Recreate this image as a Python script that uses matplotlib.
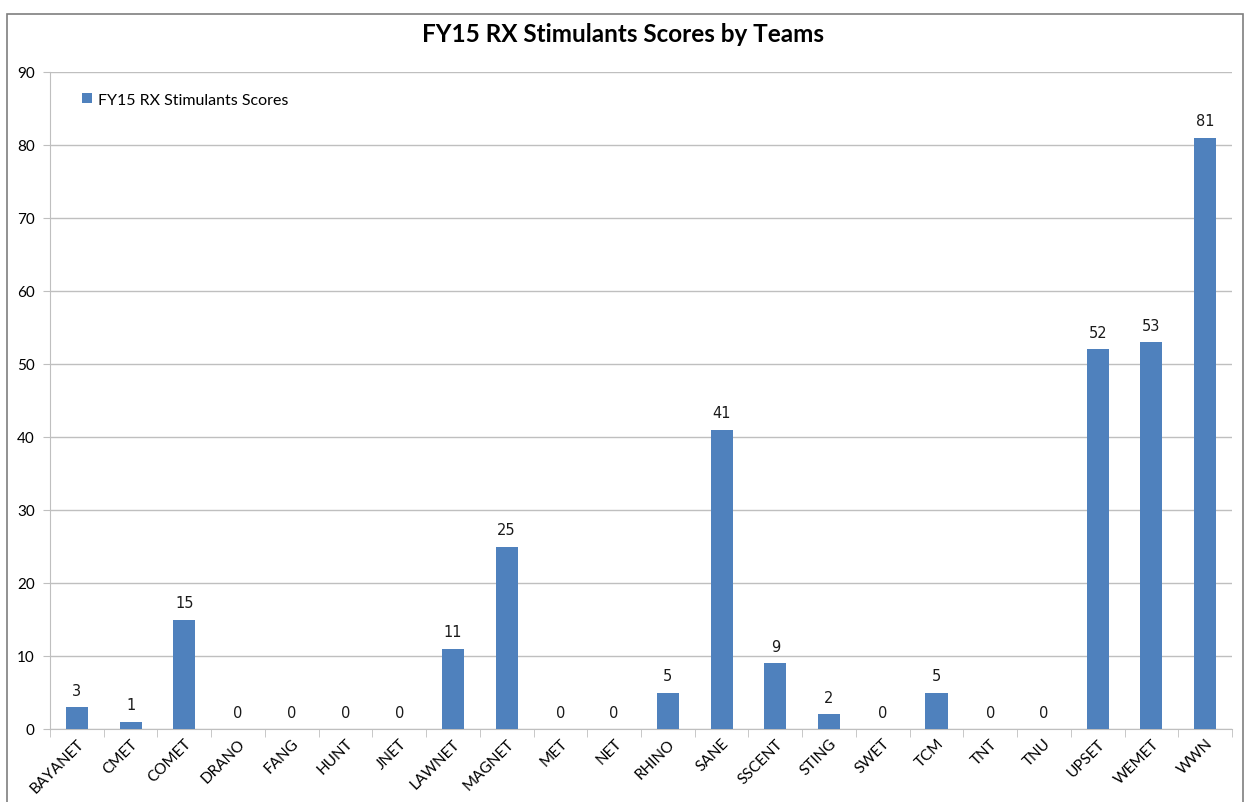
import numpy as np
import matplotlib
matplotlib.use('Agg')
from matplotlib import pyplot as plt
from matplotlib.patches import Rectangle

teams = ['BAYANET', 'CMET', 'COMET', 'DRANO', 'FANG', 'HUNT', 'JNET', 'LAWNET',
         'MAGNET', 'MET', 'NET', 'RHINO', 'SANE', 'SSCENT', 'STING', 'SWET',
         'TCM', 'TNT', 'TNU', 'UPSET', 'WEMET', 'WWN']
scores = [3, 1, 15, 0, 0, 0, 0, 11, 25, 0, 0, 5, 41, 9, 2, 0, 5, 0, 0, 52, 53, 81]
y_ticks = list(range(0, 91, 10))

bar_color = '#4F81BD'
grid_color = '#BFBFBF'
label_font = ['Lato', 'DejaVu Sans']

fig = plt.figure(figsize=(12.45, 8.03), dpi=100)

# chart frame
fig.patches.append(Rectangle((7 / 1245, -0.05), (1243 - 7) / 1245, (803 - 15) / 803 + 0.05,
                             transform=fig.transFigure, fill=False,
                             edgecolor='#7F7F7F', linewidth=1.2))
# line of text above the chart, only its descender falls inside
fig.text(248 / 1245, 1 + 6 / 803, 'g', fontsize=18, family='Liberation Serif',
         ha='center', va='baseline', color='black')

ax = fig.add_axes([50 / 1245, 73 / 803, (1232 - 50) / 1245, (730 - 73) / 803])
x = np.arange(len(teams))
ax.bar(x, scores, width=0.41, color=bar_color, label='FY15 RX Stimulants Scores', zorder=3)
for xi, v in zip(x, scores):
    ax.text(xi, v + 1.3, str(v), ha='center', va='bottom', fontsize=10.5,
            family='DejaVu Sans', color='#1a1a1a')

ax.set_xlim(-0.5, len(teams) - 0.5)
ax.set_ylim(0, 90)
ax.set_yticks(y_ticks)
ax.set_yticklabels([str(t) for t in y_ticks], family=label_font, fontsize=11)
ax.yaxis.grid(True, color=grid_color, linewidth=1, zorder=0)
ax.tick_params(axis='y', length=5, color=grid_color, pad=6)

ax.set_xticks(x)
ax.set_xticklabels(teams, rotation=45, ha='right', rotation_mode='anchor',
                   family=label_font, fontsize=11)
ax.set_xticks(np.arange(-0.5, len(teams)), minor=True)
ax.tick_params(axis='x', which='major', length=0, pad=5)
ax.tick_params(axis='x', which='minor', length=6, color=grid_color)

for side in ['top', 'right']:
    ax.spines[side].set_visible(False)
ax.spines['left'].set_color(grid_color)
ax.spines['bottom'].set_color(grid_color)

fig.text(0.5, 1 - 34 / 803, 'FY15 RX Stimulants Scores by Teams', ha='center', va='center',
         fontsize=17.5, fontweight='bold', family=label_font)

ax.legend(loc='upper left', bbox_to_anchor=(0.015, 0.99), frameon=False,
          handlelength=0.6, handleheight=0.6, handletextpad=0.4,
          prop={'family': label_font, 'size': 11.5})

fig.savefig('out.png', dpi=100)
